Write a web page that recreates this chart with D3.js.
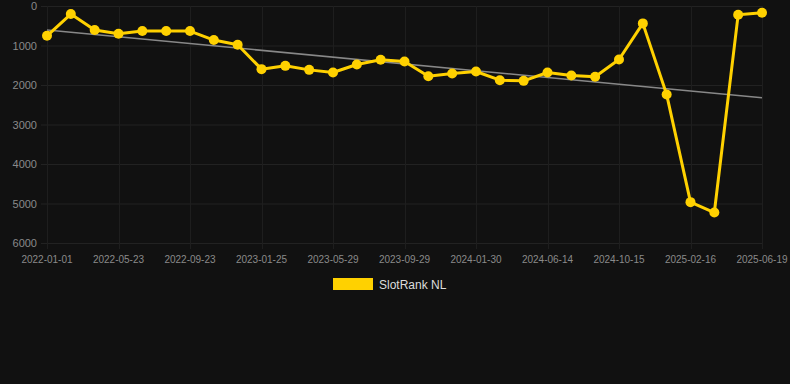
<!DOCTYPE html>
<html>
<head>
<meta charset="utf-8">
<script src="https://cdn.jsdelivr.net/npm/d3@7"></script>
<style>
	html, body { margin: 0; padding: 0; background: #111111; }
	svg { display: block; font-family: Arial, "Liberation Sans", sans-serif; }
</style>
</head>
<body>
<svg id="chart" width="790" height="384"></svg>
<script>

// dates of the samples (only every third one is labelled on the axis)
const dates = [
	'2022-01-01', '2022-02-17', '2022-04-05', '2022-05-23', '2022-07-02', '2022-08-12',
	'2022-09-23', '2022-11-02', '2022-12-14', '2023-01-25', '2023-03-06', '2023-04-17',
	'2023-05-29', '2023-07-09', '2023-08-19', '2023-09-29', '2023-11-09', '2023-12-20',
	'2024-01-30', '2024-03-15', '2024-04-30', '2024-06-14', '2024-07-25', '2024-09-04',
	'2024-10-15', '2024-11-25', '2025-01-06', '2025-02-16', '2025-03-29', '2025-05-09',
	'2025-06-19'
];
const rank = [
	754, 203, 609, 703, 634, 634, 634, 863, 982, 1599, 1515, 1617, 1683, 1480, 1363, 1404,
	1777, 1709, 1658, 1878, 1895, 1683, 1760, 1793, 1354, 440, 2242, 4966, 5228, 220, 169
];
const yTicks = [0, 1000, 2000, 3000, 4000, 5000, 6000];
const seriesName = 'SlotRank NL';

const svg = d3.select('#chart');
const plot = { left: 47, right: 762, top: 6, bottom: 243 };

const x = d3.scalePoint()
	.domain(dates)
	.range([plot.left, plot.right]);

const y = d3.scaleLinear()
	.domain([0, 6000])
	.range([plot.top, plot.bottom]);

const labelled = dates.filter((d, i) => i % 3 === 0);

// grid
const grid = svg.append('g');
grid.selectAll('line.h')
	.data(yTicks)
	.enter().append('line')
	.attr('x1', plot.left - 6).attr('x2', plot.right)
	.attr('y1', d => y(d) + 0.5).attr('y2', d => y(d) + 0.5)
	.attr('stroke', '#222222').attr('stroke-width', 1);
grid.selectAll('line.v')
	.data(labelled)
	.enter().append('line')
	.attr('x1', d => Math.round(x(d)) + 0.5).attr('x2', d => Math.round(x(d)) + 0.5)
	.attr('y1', plot.top).attr('y2', plot.bottom + 6)
	.attr('stroke', '#1e1e1e').attr('stroke-width', 1);

// y axis labels
svg.append('g')
	.selectAll('text')
	.data(yTicks)
	.enter().append('text')
	.attr('x', 37)
	.attr('y', d => y(d) + 4)
	.attr('text-anchor', 'end')
	.attr('font-size', 11)
	.attr('fill', '#8a8a8a')
	.text(d => d);

// x axis labels
svg.append('g')
	.selectAll('text')
	.data(labelled)
	.enter().append('text')
	.attr('x', d => x(d))
	.attr('y', 263)
	.attr('text-anchor', 'middle')
	.attr('font-size', 10)
	.attr('fill', '#8a8a8a')
	.text(d => d);

// linear trend (least squares over sample index)
const n = rank.length;
const mx = d3.mean(rank, (d, i) => i);
const my = d3.mean(rank);
const slope = d3.sum(rank, (d, i) => (i - mx) * (d - my)) / d3.sum(rank, (d, i) => (i - mx) * (i - mx));
const icpt = my - slope * mx;

svg.append('line')
	.attr('x1', x(dates[0])).attr('y1', y(icpt))
	.attr('x2', x(dates[n - 1])).attr('y2', y(icpt + slope * (n - 1)))
	.attr('stroke', '#888888').attr('stroke-width', 1.5);

// series
const line = d3.line()
	.x((d, i) => x(dates[i]))
	.y(d => y(d));

svg.append('path')
	.datum(rank)
	.attr('d', line)
	.attr('fill', 'none')
	.attr('stroke', '#FFD100')
	.attr('stroke-width', 3)
	.attr('stroke-linejoin', 'round');

svg.append('g')
	.selectAll('circle')
	.data(rank)
	.enter().append('circle')
	.attr('cx', (d, i) => x(dates[i]))
	.attr('cy', d => y(d))
	.attr('r', 5)
	.attr('fill', '#FFD100');

// legend
const legend = svg.append('g');
legend.append('rect')
	.attr('x', 333).attr('y', 278)
	.attr('width', 40).attr('height', 12)
	.attr('fill', '#FFD100');
legend.append('text')
	.attr('x', 379).attr('y', 288.5)
	.attr('font-size', 12)
	.attr('fill', '#dddddd')
	.text(seriesName);

</script>
</body>
</html>
